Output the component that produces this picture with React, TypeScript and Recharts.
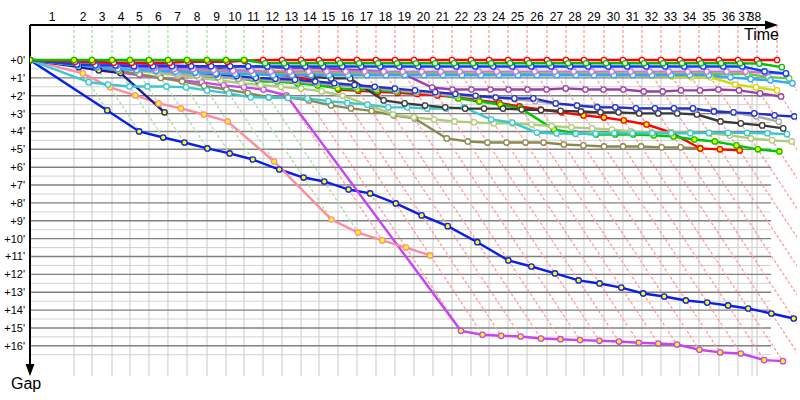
import React from 'react';
import { LineChart, Line, XAxis, YAxis, ReferenceLine } from 'recharts';

// ---------- DATA ----------
// Leader's cumulative race time (minutes) at the end of laps 1..38
const leaderTimes = [3.73, 5.25, 6.95, 8.47, 10.08, 11.69, 13.31, 15.0, 16.61, 18.14, 19.75, 21.36, 22.97, 24.49, 26.1, 27.71, 29.32, 30.93, 32.54, 34.15, 35.76, 37.37, 38.9, 40.51, 42.12, 43.81, 45.42, 46.95, 48.64, 50.25, 51.86, 53.47, 55.08, 56.69, 58.39, 60.0, 61.61, 63.31];
// Lap boundaries of the time axis (minutes)
const lapMarks = [3.73, 5.25, 6.95, 8.47, 10.08, 11.69, 13.31, 15.0, 16.61, 18.14, 19.75, 21.36, 22.97, 24.49, 26.1, 27.71, 29.32, 30.93, 32.54, 34.15, 35.76, 37.37, 38.9, 40.51, 42.12, 43.81, 45.42, 46.95, 48.64, 50.25, 51.86, 53.47, 55.08, 56.69, 58.39, 60.0, 61.19, 61.61];
const lapLabels = ['1', '2', '3', '4', '5', '6', '7', '8', '9', '10', '11', '12', '13', '14', '15', '16', '17', '18', '19', '20', '21', '22', '23', '24', '25', '26', '27', '28', '29', '30', '31', '32', '33', '34', '35', '36', '37', '38'];
// Car leading each lap
const lapLeader = ['B', 'B', 'B', 'B', 'B', 'B', 'B', 'B', 'B', 'B', 'A', 'A', 'A', 'A', 'A', 'A', 'A', 'A', 'A', 'A', 'A', 'A', 'A', 'A', 'A', 'A', 'A', 'A', 'A', 'A', 'A', 'A', 'A', 'A', 'A', 'A', 'A', 'A'];
const gapTicks = [0, 1, 2, 3, 4, 5, 6, 7, 8, 9, 10, 11, 12, 13, 14, 15, 16];
const gapHalfTicks = [0.5, 1.5, 2.5, 3.5, 4.5, 5.5, 6.5, 7.5, 8.5, 9.5, 10.5, 11.5, 12.5, 13.5, 14.5, 15.5, 16.5];

// Gap to leader (minutes) at the end of each lap, starting with lap 1
const gapsA = [0.1, 0.1, 0.15, 0.15, 0.15, 0.15, 0.1, 0.1, 0.1, 0.05, 0, 0, 0, 0, 0, 0, 0, 0, 0, 0, 0, 0, 0, 0, 0, 0, 0, 0, 0, 0, 0, 0, 0, 0, 0, 0, 0, 0];
const gapsB = [0, 0, 0, 0, 0, 0, 0, 0, 0, 0, 0.18, 0.18, 0.18, 0.18, 0.18, 0.18, 0.18, 0.18, 0.18, 0.18, 0.18, 0.18, 0.18, 0.18, 0.18, 0.18, 0.18, 0.18, 0.18, 0.18, 0.18, 0.18, 0.18, 0.18, 0.18, 0.18, 0.2, 0.4];
const gapsC = [0.25, 0.3, 0.3, 0.35, 0.35, 0.35, 0.35, 0.35, 0.35, 0.35, 0.36, 0.36, 0.36, 0.36, 0.36, 0.36, 0.36, 0.36, 0.36, 0.36, 0.36, 0.36, 0.36, 0.36, 0.36, 0.36, 0.36, 0.36, 0.36, 0.36, 0.36, 0.36, 0.36, 0.36, 0.36, 0.36, 0.64, 0.75];
const gapsD = [0.2, 0.3, 0.35, 0.4, 0.45, 0.5, 0.5, 0.55, 0.6, 0.6, 0.65, 0.65, 0.65, 0.65, 0.65, 0.65, 0.65, 0.65, 0.65, 0.65, 0.65, 0.65, 0.65, 0.65, 0.65, 0.65, 0.65, 0.65, 0.65, 0.65, 0.65, 0.65, 0.65, 0.65, 0.65, 0.65, 0.72, 0.78];
const gapsE = [0.3, 0.4, 0.5, 0.55, 0.6, 0.65, 0.7, 0.75, 0.8, 0.8, 0.85, 0.85, 0.85, 0.85, 0.85, 0.85, 0.85, 0.85, 0.85, 0.85, 0.85, 0.85, 0.85, 0.85, 0.85, 0.85, 0.85, 0.85, 0.85, 0.85, 0.85, 0.85, 0.85, 0.85, 0.97, 1.07, 1.14, 1.3];
const gapsF = [0.25, 0.3, 0.35, 0.4, 0.45, 0.5, 0.55, 0.6, 0.65, 0.7, 0.78, 0.78, 0.78, 0.78, 0.78, 0.78, 0.78, 0.78, 0.78, 0.78, 0.78, 0.78, 0.78, 0.78, 0.78, 0.78, 0.78, 0.78, 0.78, 0.78, 0.78, 0.78, 0.78, 0.78, 0.78, 0.78, 0.95, 1.03];
const gapsG = [0.3, 0.35, 0.4, 0.45, 0.5, 0.5, 0.55, 0.55, 0.6, 0.6, 0.6, 0.62, 0.62, 0.65, 0.65, 0.68, 0.7, 0.72, 0.72, 0.74, 0.76, 0.78, 0.8, 0.8, 0.8, 0.83, 0.83, 0.83, 0.85, 0.85, 0.88, 0.92, 0.97, 0.97, 1.37, 1.53, 1.7];
const gapsH = [0.1, 0.15, 0.2, 0.25, 0.28, 0.3, 0.33, 0.36, 0.38, 0.4, 0.4, 0.47, 0.47, 0.47, 0.53, 0.58, 0.64, 0.81, 1.54, 1.65, 1.65, 1.65, 1.65, 1.65, 1.65, 1.59, 1.65, 1.65, 1.65, 1.76, 1.76, 1.7, 1.7, 1.65, 1.7, 1.87, 2.04];
const gapsI = [0.2, 0.3, 0.35, 0.45, 0.55, 0.6, 0.7, 0.8, 0.9, 1.0, 1.05, 1.1, 1.2, 1.3, 1.4, 1.5, 1.6, 1.7, 1.8, 1.9, 2.0, 2.1, 2.15, 2.15, 2.43, 2.55, 2.65, 2.65, 2.71, 2.71, 2.71, 2.71, 2.88, 2.93, 2.99, 3.1, 3.16];
const gapsJ = [0.25, 0.35, 0.45, 0.55, 0.65, 0.75, 0.85, 0.95, 1.05, 1.1, 1.15, 1.2, 1.3, 1.4, 1.5, 1.6, 1.7, 1.8, 1.9, 2.0, 2.05, 2.1, 2.2, 2.3, 2.45, 2.55, 2.6, 2.65, 2.7, 2.72, 2.75, 2.78, 2.85, 2.95, 3.15, 3.45];
const gapsK = [0.1, 0.15, 0.2, 0.25, 0.3, 0.35, 0.45, 0.5, 0.55, 0.65, 0.7, 0.75, 0.92, 1.03, 1.03, 2.26, 2.43, 2.55, 2.65, 2.72, 2.72, 2.72, 2.77, 2.8, 2.85, 2.88, 2.93, 2.93, 2.99, 2.99, 2.99, 3.05, 3.44, 3.55, 3.66, 3.83];
const gapsL = [1.24, 1.37, 1.48, 1.48, 1.48, 1.53, 1.7, 1.87, 2.09, 2.1, 2.12, 2.15, 2.3, 2.4, 2.5, 2.65, 2.65, 2.72, 2.72, 2.65, 3.33, 3.5, 4.06, 4.11, 4.13, 4.13, 4.1, 4.1, 4.1, 4.1, 4.1, 4.08, 4.08, 4.08, 4.1, 4.15];
const gapsM = [0.2, 0.35, 0.5, 0.6, 0.75, 0.85, 1.0, 1.15, 1.3, 1.4, 1.5, 1.6, 1.75, 2.0, 2.5, 3.05, 3.21, 3.33, 3.44, 3.49, 3.55, 3.55, 3.61, 3.7, 3.77, 3.83, 3.89, 4.0, 4.05, 4.05, 4.05, 4.11, 4.22, 4.39, 4.5, 4.56];
const gapsN = [0.15, 0.3, 0.45, 0.55, 0.65, 0.75, 0.86, 0.97, 1.03, 1.2, 1.2, 1.31, 1.42, 1.59, 1.65, 1.7, 1.76, 1.81, 1.87, 2.15, 2.32, 2.49, 2.71, 3.89, 4.11, 4.17, 4.17, 4.17, 4.22, 4.28, 4.45, 4.56, 4.78, 5.0, 5.12];
const gapsO = [0.1, 0.2, 0.3, 0.4, 0.45, 0.5, 0.55, 0.6, 0.64, 0.8, 0.8, 0.92, 1.14, 1.65, 1.72, 1.78, 1.84, 1.9, 1.98, 2.1, 2.25, 2.4, 2.6, 2.77, 2.93, 3.1, 3.22, 3.38, 3.61, 4.05, 4.95, 5.0, 5.06];
const gapsP = [0.2, 0.4, 0.6, 0.8, 1.0, 1.2, 1.45, 1.65, 1.85, 2.09, 2.09, 2.26, 2.54, 2.71, 2.85, 3.1, 3.27, 4.39, 4.56, 4.62, 4.62, 4.62, 4.62, 4.73, 4.78, 4.84, 4.84, 4.84, 4.89, 4.89, 4.95];
const gapsQ = [2.82, 4.0, 4.34, 4.62, 4.95, 5.23, 5.57, 6.13, 6.58, 6.8, 7.25, 7.47, 8.03, 8.7, 9.3, 10.2, 11.22, 11.56, 11.95, 12.34, 12.51, 12.74, 13.07, 13.24, 13.46, 13.58, 13.74, 13.91, 14.19, 14.47];
const gapsR = [0.3, 0.5, 0.7, 0.85, 1.0, 1.14, 1.25, 1.42, 1.53, 1.65, 1.98, 15.16, 15.38, 15.44, 15.48, 15.59, 15.63, 15.68, 15.72, 15.76, 15.83, 15.87, 15.93, 16.22, 16.37, 16.43, 16.8, 16.86];
const gapsS = [0.75, 1.53, 1.98, 2.43, 2.71, 3.05, 3.44, 5.68, 8.93, 9.66, 10.1, 10.5, 10.94];
const gapsT = [0.4, 0.58, 0.73, 2.93];

const carGaps: Record<string, number[]> = {
  A: gapsA, B: gapsB, C: gapsC, D: gapsD, E: gapsE, F: gapsF, G: gapsG, H: gapsH, I: gapsI, J: gapsJ,
  K: gapsK, L: gapsL, M: gapsM, N: gapsN, O: gapsO, P: gapsP, Q: gapsQ, R: gapsR, S: gapsS, T: gapsT,
};

// ---------- STYLE ----------
type Sty = { color: string; fill: string; earlyFill?: string; earlyLaps?: number; guide?: string };
const styles: Record<string, Sty> = {
  A: { color: '#ff0000', fill: '#ffffff', guide: '#ff9c9c' },
  B: { color: '#00c000', fill: '#ffffff', earlyFill: '#ffff00', earlyLaps: 10, guide: '#a8dca8' },
  C: { color: '#0a3cff', fill: '#ffffff' },
  D: { color: '#d070d8', fill: '#ffffff' },
  E: { color: '#30a8ff', fill: '#ffffff' },
  F: { color: '#60d040', fill: '#ffffff' },
  G: { color: '#d8d800', fill: '#ffffff' },
  H: { color: '#9a40a8', fill: '#ffffff' },
  I: { color: '#2030d0', fill: '#ffffff' },
  J: { color: '#a8a8a8', fill: '#ffffff' },
  K: { color: '#383838', fill: '#ffffff' },
  L: { color: '#38c8d0', fill: '#ffffff' },
  M: { color: '#b0cc78', fill: '#ffffff' },
  N: { color: '#00c800', fill: '#ffff00' },
  O: { color: '#ff0000', fill: '#ffff00' },
  P: { color: '#8a8a50', fill: '#ffffff' },
  Q: { color: '#0a1ee8', fill: '#ffff00' },
  R: { color: '#c844f0', fill: '#ffff00', earlyFill: '#ffffff', earlyLaps: 10 },
  S: { color: '#ff8c9c', fill: '#ffff00' },
  T: { color: '#1c1c90', fill: '#ffff00' },
};
const drawOrder = ['Q', 'R', 'S', 'T', 'P', 'O', 'N', 'M', 'L', 'K', 'J', 'I', 'H', 'G', 'F', 'E', 'D', 'C', 'A', 'B'];

const FONT = "'Liberation Sans', Arial, sans-serif";
const Y_MIN = -1.96;
const Y_MAX = 17.69;
const X_MAX = 65.0;
const GRID_X_END = 62.8;
const AXIS_X_END = 63.39;

// ---------- DERIVED ----------
const seriesData = (gaps: number[]) => [
  { x: 0, y: 0 },
  ...gaps.map((g, i) => ({ x: leaderTimes[i] + g, y: g })),
];
const allGapLists = Object.values(carGaps);
const overallMax = Math.max(...allGapLists.flat());
const lappedUntil = Math.max(...[gapsR.length, gapsQ.length - 2]);
const diagEnd = leaderTimes.map((_, i) => {
  const m = Math.max(...allGapLists.map((gl) => (i < gl.length ? gl[i] : 0)));
  return i < lappedUntil ? m : overallMax;
});
const labelPos = lapMarks.map((m, i) => ((i === 0 ? 0 : lapMarks[i - 1]) + m) / 2);

const makeDot = (s: Sty) => (props: any) => {
  const { cx, cy, index } = props;
  if (cx == null || cy == null) return <g key={`d${index}`} />;
  const fill = s.earlyFill && index <= (s.earlyLaps || 0) ? s.earlyFill : s.fill;
  return <circle key={`d${index}`} cx={cx} cy={cy} r={2.7} stroke={s.color} strokeWidth={1.3} fill={fill} />;
};

const XTick = (props: any) => (
  <text x={props.x} y={props.y} textAnchor="middle" fontSize={12} fontFamily={FONT} fill="#000">
    {lapLabels[props.index]}
  </text>
);
const YTick = (props: any) => (
  <text x={props.x} y={props.y + 4} textAnchor="end" fontSize={11} fontFamily={FONT} fill="#000">
    {`+${props.payload.value}'`}
  </text>
);

const ArrowRight = (p: any) => (
  <g>
    <line x1={p.x1} y1={p.y1} x2={p.x2 - 8} y2={p.y2} stroke="#000" strokeWidth={2} />
    <polygon points={`${p.x2},${p.y2} ${p.x2 - 13},${p.y2 - 4.5} ${p.x2 - 13},${p.y2 + 4.5}`} fill="#000" />
  </g>
);
const ArrowDown = (p: any) => (
  <g>
    <line x1={p.x1} y1={p.y1} x2={p.x2} y2={p.y2 - 8} stroke="#000" strokeWidth={2} />
    <polygon points={`${p.x2},${p.y2} ${p.x2 - 4.5},${p.y2 - 12} ${p.x2 + 4.5},${p.y2 - 12}`} fill="#000" />
  </g>
);

export default function App() {
  return (
    <div style={{ position: 'absolute', left: 0, top: 0, width: 800, height: 400, background: '#fff' }}>
      <LineChart width={800} height={400} margin={{ top: 0, right: 3, bottom: 24, left: 0 }}>
        <XAxis
          xAxisId={0}
          type="number"
          dataKey="x"
          orientation="top"
          domain={[0, X_MAX]}
          allowDataOverflow
          ticks={labelPos}
          interval={0}
          tick={<XTick />}
          tickLine={false}
          axisLine={false}
          tickSize={0}
          tickMargin={4}
          height={25}
        />
        <YAxis
          yAxisId={0}
          type="number"
          dataKey="y"
          domain={[Y_MIN, Y_MAX]}
          reversed
          allowDataOverflow
          ticks={gapTicks}
          interval={0}
          tick={<YTick />}
          tickLine={false}
          axisLine={false}
          tickSize={0}
          tickMargin={5}
          width={30}
        />
        {gapHalfTicks.map((v) => (
          <ReferenceLine key={`hh${v}`} segment={[{ x: 0, y: v }, { x: GRID_X_END, y: v }]} stroke="#d2d2d2" strokeWidth={1} ifOverflow="visible" />
        ))}
        {lapMarks.map((m, i) => (
          <ReferenceLine key={`vg${i}`} segment={[{ x: m, y: 0 }, { x: m, y: Y_MAX }]} stroke="#d2d2d2" strokeWidth={1.2} ifOverflow="visible" />
        ))}
        {gapTicks.map((v) => (
          <ReferenceLine key={`hm${v}`} segment={[{ x: 0, y: v }, { x: GRID_X_END, y: v }]} stroke="#808080" strokeWidth={1.4} ifOverflow="visible" />
        ))}
        {leaderTimes.map((t, i) => (
          <ReferenceLine key={`vd${i}`} segment={[{ x: t, y: Y_MIN }, { x: t, y: 0 }]} stroke={styles[lapLeader[i]].guide} strokeWidth={1.3} strokeDasharray="3 2" ifOverflow="visible" />
        ))}
        {leaderTimes.map((t, i) => (
          <ReferenceLine key={`dg${i}`} segment={[{ x: t, y: 0 }, { x: t + diagEnd[i], y: diagEnd[i] }]} stroke={styles[lapLeader[i]].guide} strokeWidth={1.3} strokeDasharray="3 2" ifOverflow="hidden" />
        ))}
        {drawOrder.map((id) => (
          <Line
            key={id}
            data={seriesData(carGaps[id])}
            dataKey="y"
            type="linear"
            stroke={styles[id].color}
            strokeWidth={2.4}
            dot={makeDot(styles[id])}
            activeDot={false}
            isAnimationActive={false}
          />
        ))}
        <ReferenceLine segment={[{ x: 0, y: Y_MIN }, { x: AXIS_X_END, y: Y_MIN }]} shape={ArrowRight} ifOverflow="visible" />
        <ReferenceLine segment={[{ x: 0, y: Y_MIN }, { x: 0, y: Y_MAX }]} shape={ArrowDown} ifOverflow="visible" />
      </LineChart>
      <svg width={800} height={400} style={{ position: 'absolute', left: 0, top: 0, pointerEvents: 'none' }}>
        <text x={744} y={40} fontSize={16} fontFamily={FONT} fill="#000">Time</text>
        <text x={11} y={389} fontSize={16} fontFamily={FONT} fill="#000">Gap</text>
      </svg>
    </div>
  );
}
